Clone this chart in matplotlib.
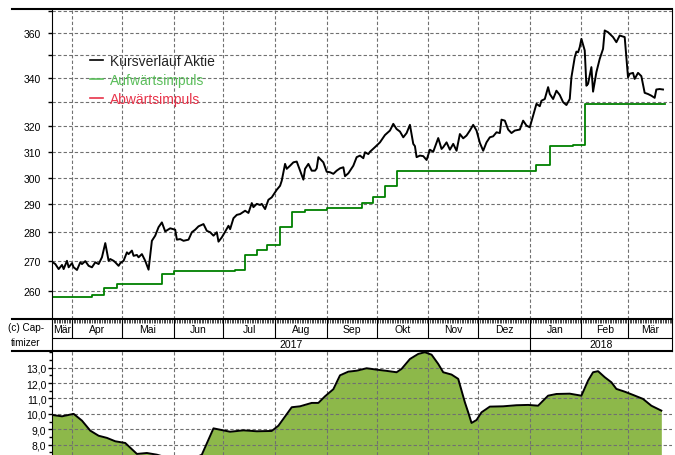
import numpy as np
import pandas as pd
import matplotlib
matplotlib.use('Agg')
import matplotlib.pyplot as plt
import matplotlib.dates as mdates
from matplotlib.lines import Line2D
from matplotlib.ticker import FixedLocator, FixedFormatter, NullLocator, MultipleLocator, FuncFormatter

plt.rcParams['font.family'] = ['Liberation Sans', 'DejaVu Sans']

# Kursverlauf
kurs_datum = [
    '2017-03-20', '2017-03-22', '2017-03-24', '2017-03-26', '2017-03-27', '2017-03-29', '2017-03-30',
    '2017-04-01', '2017-04-02', '2017-04-04', '2017-04-06', '2017-04-07', '2017-04-09', '2017-04-11',
    '2017-04-13', '2017-04-15', '2017-04-17', '2017-04-19', '2017-04-21', '2017-04-23', '2017-04-24',
    '2017-04-26', '2017-04-27', '2017-04-29', '2017-04-30', '2017-05-02', '2017-05-04', '2017-05-05',
    '2017-05-07', '2017-05-08', '2017-05-10', '2017-05-11', '2017-05-13', '2017-05-15', '2017-05-17',
    '2017-05-19', '2017-05-21', '2017-05-23', '2017-05-25', '2017-05-27', '2017-05-30', '2017-06-02',
    '2017-06-03', '2017-06-05', '2017-06-07', '2017-06-10', '2017-06-12', '2017-06-14', '2017-06-16',
    '2017-06-19', '2017-06-21', '2017-06-23', '2017-06-25', '2017-06-27', '2017-06-28', '2017-06-30',
    '2017-07-02', '2017-07-04', '2017-07-05', '2017-07-07', '2017-07-09', '2017-07-11', '2017-07-14',
    '2017-07-16', '2017-07-18', '2017-07-19', '2017-07-21', '2017-07-23', '2017-07-24', '2017-07-26',
    '2017-07-28', '2017-07-30', '2017-08-02', '2017-08-04', '2017-08-05', '2017-08-07', '2017-08-08',
    '2017-08-10', '2017-08-12', '2017-08-14', '2017-08-16', '2017-08-18', '2017-08-19', '2017-08-21',
    '2017-08-23', '2017-08-25', '2017-08-26', '2017-08-27', '2017-08-30', '2017-09-01', '2017-09-03',
    '2017-09-05', '2017-09-07', '2017-09-09', '2017-09-11', '2017-09-12', '2017-09-14', '2017-09-17',
    '2017-09-19', '2017-09-21', '2017-09-23', '2017-09-24', '2017-09-26', '2017-09-27', '2017-09-30',
    '2017-10-02', '2017-10-03', '2017-10-06', '2017-10-09', '2017-10-11', '2017-10-13', '2017-10-15',
    '2017-10-17', '2017-10-19', '2017-10-21', '2017-10-23', '2017-10-24', '2017-10-25', '2017-10-27',
    '2017-10-29', '2017-10-31', '2017-11-02', '2017-11-04', '2017-11-05', '2017-11-07', '2017-11-09',
    '2017-11-10', '2017-11-12', '2017-11-14', '2017-11-16', '2017-11-18', '2017-11-20', '2017-11-22',
    '2017-11-24', '2017-11-26', '2017-11-28', '2017-11-30', '2017-12-02', '2017-12-04', '2017-12-06',
    '2017-12-08', '2017-12-10', '2017-12-12', '2017-12-14', '2017-12-15', '2017-12-17', '2017-12-19',
    '2017-12-21', '2017-12-23', '2017-12-26', '2017-12-28', '2017-12-30', '2018-01-01', '2018-01-03',
    '2018-01-05', '2018-01-07', '2018-01-08', '2018-01-10', '2018-01-12', '2018-01-13', '2018-01-15',
    '2018-01-17', '2018-01-19', '2018-01-21', '2018-01-23', '2018-01-25', '2018-01-26', '2018-01-28',
    '2018-01-29', '2018-01-30', '2018-01-31', '2018-02-01', '2018-02-03', '2018-02-04', '2018-02-05',
    '2018-02-07', '2018-02-08', '2018-02-10', '2018-02-12', '2018-02-14', '2018-02-15', '2018-02-17',
    '2018-02-20', '2018-02-22', '2018-02-24', '2018-02-27', '2018-03-01', '2018-03-02', '2018-03-04',
    '2018-03-05', '2018-03-07', '2018-03-09', '2018-03-11', '2018-03-13', '2018-03-15', '2018-03-17',
    '2018-03-18', '2018-03-20', '2018-03-22']
kurs_wert = [
    269.8, 269.0, 267.3, 268.7, 267.3, 270.1, 267.9,
    269.3, 267.9, 267.0, 269.6, 269.0, 270.0, 268.4,
    267.9, 269.6, 269.0, 271.3, 276.2, 270.1, 270.7,
    270.1, 269.6, 268.4, 269.3, 270.1, 273.0, 272.4,
    273.6, 271.8, 272.1, 271.3, 272.4, 270.1, 267.1,
    277.0, 278.8, 281.8, 283.5, 280.3, 281.4, 280.9,
    277.4, 277.6, 277.0, 277.4, 280.0, 280.9, 282.1,
    282.9, 280.5, 280.0, 278.8, 280.0, 276.7, 278.2,
    280.2, 282.3, 281.1, 285.0, 286.2, 286.5, 287.7,
    286.9, 290.5, 289.0, 290.2, 289.8, 290.2, 288.3,
    291.7, 292.6, 295.4, 296.9, 298.8, 305.2, 303.3,
    304.5, 305.8, 306.1, 302.6, 299.2, 303.3, 305.2,
    302.6, 302.6, 303.5, 307.8, 305.8, 302.2, 302.0,
    301.4, 302.6, 303.5, 303.9, 300.5, 301.6, 304.5,
    307.8, 308.4, 307.4, 309.7, 309.0, 309.9, 311.7,
    313.0, 313.6, 316.5, 318.3, 321.0, 318.9, 317.9,
    315.6, 317.3, 320.6, 313.0, 312.1, 307.8, 308.4,
    308.2, 306.7, 310.7, 309.9, 311.7, 315.3, 311.0,
    311.7, 313.6, 310.7, 313.0, 310.3, 316.9, 315.2,
    316.3, 318.3, 320.6, 318.3, 313.4, 310.3, 313.6,
    315.6, 316.0, 317.6, 317.3, 322.7, 322.3, 318.7,
    317.3, 318.3, 318.7, 322.3, 320.3, 319.6, 324.3,
    329.2, 328.2, 330.5, 331.2, 336.2, 333.3, 331.2,
    334.7, 332.9, 329.9, 328.7, 331.2, 340.4, 349.1,
    351.6, 351.3, 353.6, 357.3, 352.1, 336.8, 337.6,
    344.8, 334.3, 342.6, 348.4, 352.8, 361.1, 360.3,
    358.1, 355.8, 358.8, 358.1, 340.4, 341.9, 342.3,
    339.7, 342.3, 340.9, 333.8, 333.3, 332.6, 331.7,
    335.2, 335.4, 335.2]

# Aufwärtsimpuls (Stufen)
impuls_datum = ['2017-03-20', '2017-04-13', '2017-04-20', '2017-04-28', '2017-05-25', '2017-06-01',
                '2017-07-08', '2017-07-14', '2017-07-21', '2017-07-27', '2017-08-04', '2017-08-11',
                '2017-08-19', '2017-09-01', '2017-09-22', '2017-09-29', '2017-10-06', '2017-10-13',
                '2018-01-05', '2018-01-13', '2018-01-27', '2018-02-03', '2018-03-23']
impuls_wert = [258.0, 258.7, 260.9, 262.2, 265.5, 266.6,
               266.9, 272.0, 273.9, 275.4, 282.0, 287.1,
               288.0, 288.8, 290.5, 292.9, 296.9, 302.4,
               304.6, 312.0, 312.6, 329.2, 329.2]

# Indikator unten
ind_datum = ['2017-03-20', '2017-03-26', '2017-04-02', '2017-04-07', '2017-04-12', '2017-04-17',
             '2017-04-22', '2017-04-27', '2017-05-03', '2017-05-10', '2017-05-16', '2017-05-22',
             '2017-05-30', '2017-06-08', '2017-06-14', '2017-06-18', '2017-06-25', '2017-06-29',
             '2017-07-05', '2017-07-13', '2017-07-21', '2017-07-30', '2017-08-03', '2017-08-11',
             '2017-08-16', '2017-08-23', '2017-08-27', '2017-08-31', '2017-09-05', '2017-09-09',
             '2017-09-14', '2017-09-19', '2017-09-25', '2017-10-01', '2017-10-07', '2017-10-13',
             '2017-10-16', '2017-10-21', '2017-10-26', '2017-10-30', '2017-11-03', '2017-11-07',
             '2017-11-10', '2017-11-15', '2017-11-19', '2017-11-23', '2017-11-25', '2017-11-27',
             '2017-11-30', '2017-12-03', '2017-12-08', '2017-12-16', '2017-12-24', '2017-12-31',
             '2018-01-06', '2018-01-12', '2018-01-17', '2018-01-25', '2018-02-01', '2018-02-05',
             '2018-02-08', '2018-02-11', '2018-02-15', '2018-02-19', '2018-02-22', '2018-02-27',
             '2018-03-04', '2018-03-10', '2018-03-15', '2018-03-21']
ind_wert = [9.93, 9.84, 10.0, 9.56, 8.91, 8.58,
            8.44, 8.22, 8.11, 7.40, 7.46, 7.35,
            7.10, 7.05, 7.15, 7.35, 9.06, 8.97,
            8.84, 8.93, 8.87, 8.89, 9.23, 10.43,
            10.49, 10.71, 10.71, 11.14, 11.60, 12.50,
            12.74, 12.80, 12.96, 12.87, 12.79, 12.70,
            12.92, 13.56, 13.89, 14.00, 13.84, 13.24,
            12.70, 12.55, 12.27, 10.75, 10.10, 9.41,
            9.60, 10.10, 10.47, 10.49, 10.56, 10.58,
            10.53, 11.18, 11.29, 11.31, 11.18, 12.16,
            12.70, 12.77, 12.38, 12.05, 11.62, 11.44,
            11.23, 10.97, 10.53, 10.21]

monate = ['Jan', 'Feb', 'Mär', 'Apr', 'Mai', 'Jun', 'Jul', 'Aug', 'Sep', 'Okt', 'Nov', 'Dez']
kurs_ticks = [260, 270, 280, 290, 300, 310, 320, 330, 340, 350, 360, 370]
kurs_labels = ['260', '270', '280', '290', '300', '310', '320', '', '340', '', '360', '']
ind_ticks = [8, 9, 10, 11, 12, 13]
legende = ['Kursverlauf Aktie', 'Aufwärtsimpuls', 'Abwärtsimpuls']
legende_farben = ['#222222', '#5cbf5c', '#e8334a']

W, H = 675, 456
fig = plt.figure(figsize=(W / 100, H / 100), dpi=100)

def fx(px):
    return px / W

def fy(py):
    return 1 - py / H

x0, x1 = 52, 672
start = pd.Timestamp('2017-03-20')
ende = pd.Timestamp('2018-03-27 10:00')
gridkw = dict(color='#707070', linestyle=(0, (3, 2)), linewidth=0.8)

ax = fig.add_axes([fx(x0), fy(320), fx(x1 - x0), (320 - 10) / H])
band = fig.add_axes([fx(x0), fy(352), fx(x1 - x0), (352 - 320) / H])
ax2 = fig.add_axes([fx(x0), 0, fx(x1 - x0), (456 - 352) / H])

kd = pd.to_datetime(kurs_datum)
idt = pd.to_datetime(impuls_datum)
ind = pd.to_datetime(ind_datum)

# --- oberer Chart
ax.plot(idt, impuls_wert, drawstyle='steps-post', color='#008000', lw=1.3)
ax.plot(kd, kurs_wert, color='black', lw=1.4)
ax.set_yscale('log')
ax.set_ylim(251.0, 371.0)
ax.yaxis.set_major_locator(FixedLocator(kurs_ticks))
ax.yaxis.set_major_formatter(FixedFormatter(kurs_labels))
ax.yaxis.set_minor_locator(NullLocator())
ax.set_xlim(start, ende)
ax.xaxis.set_major_locator(mdates.MonthLocator())
ax.xaxis.set_major_formatter(FixedFormatter([]))
ax.tick_params(axis='x', length=0)
ax.tick_params(axis='y', length=3, width=1, pad=5, labelsize=7.5)
ax.grid(True, **gridkw)
for s in ['top', 'bottom']:
    ax.spines[s].set_visible(False)

handles = [Line2D([], [], color=c, lw=1.2) for c in ['black', '#5cbf5c', '#e8334a']]
ax.legend(handles, legende, loc='upper left', bbox_to_anchor=((90 - x0) / 620, (320 - 55) / 310),
          frameon=False, borderpad=0, borderaxespad=0, handlelength=0.95, handletextpad=0.5,
          labelspacing=0.36, labelcolor=legende_farben,
          prop={'family': ['Liberation Sans Narrow', 'Liberation Sans'], 'size': 10,
                'stretch': 'condensed'})

# --- Monats-/Jahresband
band.set_xlim(start, ende)
band.set_ylim(0, 1)
band.set_xticks([])
band.set_yticks([])
for s in ['top', 'bottom']:
    band.spines[s].set_visible(False)
ym = (352 - 339) / 32
band.axhline(ym, color='black', lw=0.8)
tage = pd.date_range(start, ende, freq='D')
band.vlines(tage, 1 - 3.5 / 32, 1, color='black', lw=0.5)
mstarts = pd.date_range('2017-04-01', '2018-03-01', freq='MS')
band.vlines(mstarts, ym, 1, color='black', lw=0.8)
band.vlines([pd.Timestamp('2018-01-01')], 0, ym, color='black', lw=0.8)
grenzen = [start] + list(mstarts) + [ende]
for a, b in zip(grenzen[:-1], grenzen[1:]):
    mitte = a + (b - a) / 2
    band.text(mitte, (352 - 330) / 32, monate[a.month - 1], ha='center', va='center', fontsize=7.5)
for a, b in [(start, pd.Timestamp('2018-01-01')), (pd.Timestamp('2018-01-01'), ende)]:
    mitte = a + (b - a) / 2
    band.text(mitte, (352 - 345.5) / 32, str(mitte.year), ha='center', va='center', fontsize=7.5)

# --- unterer Chart
ax2.fill_between(ind, ind_wert, 0, color='#8db84a', lw=0)
ax2.plot(ind, ind_wert, color='black', lw=1.4)
ax2.set_xlim(start, ende)
ax2.set_ylim(7.33, 14.08)
ax2.yaxis.set_major_locator(FixedLocator(ind_ticks))
ax2.yaxis.set_minor_locator(MultipleLocator(0.5))
ax2.yaxis.set_major_formatter(FuncFormatter(lambda v, p: ('%.1f' % v).replace('.', ',')))
ax2.xaxis.set_major_locator(mdates.MonthLocator())
ax2.xaxis.set_major_formatter(FixedFormatter([]))
ax2.tick_params(axis='x', length=0)
ax2.tick_params(axis='y', which='major', length=3, width=1, pad=1, labelsize=7.5)
ax2.tick_params(axis='y', which='minor', length=2, width=1)
ax2.grid(True, which='major', **gridkw)
for s in ['top', 'bottom', 'right']:
    ax2.spines[s].set_visible(False)

# --- Rahmenlinien und Copyright
for py in [10, 320, 352]:
    fig.add_artist(Line2D([fx(12), fx(x1)], [fy(py), fy(py)], color='black', lw=1.5))
fig.text(fx(26), fy(328), '(c) Cap-', ha='center', va='center', fontsize=7.2)
fig.text(fx(26), fy(343), 'timizer', ha='center', va='center', fontsize=7.2)

fig.savefig('out.png', dpi=100)
